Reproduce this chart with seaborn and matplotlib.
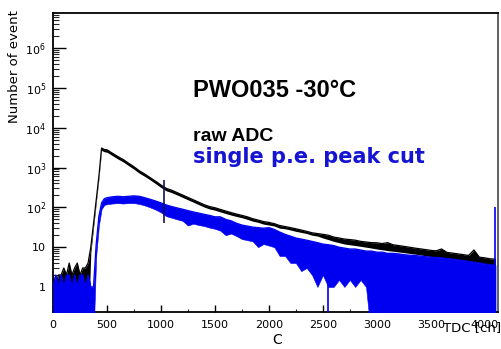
import numpy as np
import pandas as pd
import matplotlib
matplotlib.use("Agg")
import matplotlib.pyplot as plt
from matplotlib.ticker import FixedLocator, FixedFormatter, MultipleLocator, LogLocator, NullFormatter
import seaborn as sns

# TDC channel grid [ch]
channels = [0, 25, 50, 75, 100, 125, 150, 175, 200, 225, 250, 275, 300, 325,
            350, 375, 400, 425, 450, 475,
            500, 550, 600, 650, 700, 750, 800, 850, 900, 950,
            1000, 1050, 1100, 1150, 1200, 1250, 1300, 1350, 1400, 1450,
            1500, 1550, 1600, 1650, 1700, 1750, 1800, 1850, 1900, 1950,
            2000, 2050, 2100, 2150, 2200, 2250, 2300, 2350, 2400, 2450,
            2500, 2550, 2600, 2650, 2700, 2750, 2800, 2850, 2900, 2950,
            3000, 3050, 3100, 3150, 3200, 3250, 3300, 3350, 3400, 3450,
            3500, 3550, 3600, 3650, 3700, 3750, 3800, 3850, 3900, 3950,
            4000, 4050, 4100]

# raw ADC spectrum: upper / lower edge of the bin-to-bin fluctuation band
raw_hi = [2, 1, 2, 2, 3, 2, 4, 2, 3, 4, 2, 3, 3, 4,
          10, 38, 150, 600, 3100, 2850,
          2800, 2300, 1900, 1600, 1290, 1050, 830, 690, 560, 455,
          365, 300, 270, 235, 205, 178, 155, 135, 117, 105,
          98, 89, 81, 74, 68, 63, 58, 52, 48, 44,
          42, 39, 35, 33, 31, 29, 27, 25, 23, 22,
          21, 20, 18, 17, 16, 15.5, 15, 14, 13.5, 13,
          12.9, 12.3, 13, 11.5, 11, 10.5, 10, 9.5, 9.1, 8.7,
          8.3, 8.1, 9, 7.4, 7.1, 6.8, 6.5, 6.2, 8.5, 5.6,
          5.4, 5.1, 5.0]
raw_lo = [0, 0, 0, 0, 0, 0, 0, 0, 0, 0, 0, 0, 0, 0,
          7, 30, 125, 520, 2700, 2500,
          2430, 2000, 1650, 1390, 1120, 910, 720, 600, 490, 395,
          315, 260, 235, 205, 178, 155, 135, 117, 102, 91,
          85, 77, 70, 64, 59, 55, 50, 45, 42, 38,
          36, 34, 30, 29, 27, 25, 23.5, 22, 20, 19,
          17, 15.5, 14, 13, 12, 11.5, 11, 10.5, 10, 9.5,
          9, 8.6, 8.2, 7.9, 7.6, 7.3, 7, 6.7, 6.4, 6.1,
          5.8, 5.6, 5.4, 5.2, 5, 4.8, 4.6, 4.4, 4.2, 4,
          3.8, 3.6, 3.5]

# spectrum after the single p.e. peak cut
cut_hi = [1, 2, 1, 2, 1, 2, 2, 1, 2, 1, 2, 2, 1, 2,
          1, 1, 12, 60, 130, 165,
          175, 185, 190, 185, 190, 195, 190, 175, 160, 145,
          130, 115, 105, 97, 90, 83, 77, 72, 67, 63,
          58, 58, 50, 46, 40, 36, 34, 32, 31, 30,
          31, 28, 24, 21, 19, 17, 16, 15, 14, 13,
          12, 11.5, 11, 10, 9.5, 9, 9, 8.5, 8, 8,
          7.5, 7.5, 7, 7, 6.8, 6.5, 6.3, 6.2, 6, 5.8,
          5.6, 5.5, 5.4, 5.2, 5, 4.8, 4.6, 4.4, 4.2, 4,
          3.8, 3.6, 3.5]
cut_lo = [0, 0, 0, 0, 0, 0, 0, 0, 0, 0, 0, 0, 0, 0,
          0, 0, 6, 35, 90, 115,
          120, 125, 128, 125, 128, 128, 122, 112, 100, 88,
          75, 60, 55, 50, 46, 35, 39, 36, 34, 31,
          29, 26, 20, 22, 19, 16, 15, 14, 10, 12,
          11, 10, 6, 6, 4, 4, 2.5, 3, 2, 1,
          2, 1, 1, 1.5, 1, 1.5, 1, 1.5, 1, 0,
          0, 0, 0, 0, 0, 0, 0, 0, 0, 0,
          0, 0, 0, 0, 0, 0, 0, 0, 0, 0,
          0, 0, 0]

# single-bin outliers: channel, lowest and highest count in that bin column
raw_spike_ch = [1030]
raw_spike_lo = [40]
raw_spike_hi = [490]
cut_spike_ch = [2546, 4095]
cut_spike_lo = [0, 0]
cut_spike_hi = [12, 100]

x_ticks = [0, 500, 1000, 1500, 2000, 2500, 3000, 3500, 4000]
x_tick_labels = ["0", "500", "1000", "1500", "2000", "2500", "3000", "3500", "4000"]
y_ticks = [1, 10, 100, 1e3, 1e4, 1e5, 1e6]
y_tick_labels = ["1", "10", "$10^{2}$", "$10^{3}$", "$10^{4}$", "$10^{5}$", "$10^{6}$"]

sns.set_theme(style="ticks")
plt.rcParams["font.family"] = ["DejaVu Sans"]

RAW_COLOR = "#000000"
CUT_COLOR = "#0000f0"
Y_MIN, Y_MAX = 0.235, 7.66e6
FLOOR = 0.05  # empty bins are drawn down to the axis


def nonzero(v):
    v = np.asarray(v, dtype=float)
    return np.where(v > 0, v, FLOOR)


df = pd.DataFrame({
    "ch": channels,
    "raw_hi": nonzero(raw_hi), "raw_lo": nonzero(raw_lo),
    "cut_hi": nonzero(cut_hi), "cut_lo": nonzero(cut_lo),
})

fig = plt.figure(figsize=(5.02, 3.49), dpi=100)
ax = fig.add_axes([53 / 502, 1 - 312 / 349, 444.7 / 502, 299 / 349])
ax.set_yscale("log")

# raw ADC
ax.fill_between(df["ch"], df["raw_lo"], df["raw_hi"], color=RAW_COLOR, lw=0, zorder=2)
sns.lineplot(data=df, x="ch", y="raw_hi", color=RAW_COLOR, lw=0.9, ax=ax, zorder=2)
# after cut
ax.fill_between(df["ch"], df["cut_lo"], df["cut_hi"], color=CUT_COLOR, lw=0.4, zorder=3)
sns.lineplot(data=df, x="ch", y="cut_hi", color=CUT_COLOR, lw=0.9, ax=ax, zorder=3)

ax.vlines(raw_spike_ch, nonzero(raw_spike_lo), raw_spike_hi, colors="#10105a", lw=1.2, zorder=4)
ax.vlines(cut_spike_ch, nonzero(cut_spike_lo), cut_spike_hi, colors=CUT_COLOR, lw=1.2, zorder=4)

ax.set_xlim(0, 4120)
ax.set_ylim(Y_MIN, Y_MAX)
ax.set_xlabel("")
ax.set_ylabel("")

ax.xaxis.set_major_locator(FixedLocator(x_ticks))
ax.xaxis.set_major_formatter(FixedFormatter(x_tick_labels))
ax.xaxis.set_minor_locator(MultipleLocator(250))
ax.yaxis.set_major_locator(FixedLocator(y_ticks))
ax.yaxis.set_major_formatter(FixedFormatter(y_tick_labels))
ax.yaxis.set_minor_locator(LogLocator(base=10, subs=np.arange(2, 10), numticks=30))
ax.yaxis.set_minor_formatter(NullFormatter())

ax.tick_params(axis="y", which="major", direction="in", length=9, width=1.0,
               left=True, right=False, pad=5, labelsize=8, colors="black")
ax.tick_params(axis="y", which="minor", direction="in", length=4.5, width=0.8,
               left=True, right=False)
ax.tick_params(axis="x", which="major", direction="in", length=5, width=1.0,
               bottom=True, top=False, pad=6, labelsize=8, colors="black")
ax.tick_params(axis="x", which="minor", direction="in", length=2.5, width=0.8,
               bottom=True, top=False)

for side in ("left", "bottom", "top"):
    ax.spines[side].set_color("black")
    ax.spines[side].set_linewidth(1.3)
ax.spines["right"].set_color("#555555")
ax.spines["right"].set_linewidth(1.3)
ax.grid(False)

# axis titles
fig.text(15 / 502, 1 - 10 / 349, "Number of event", rotation=90, ha="center", va="top",
         fontsize=9.5, color="black")
fig.text(277 / 502, 1 - 340 / 349, "C", ha="center", va="center", fontsize=10, color="black")
fig.text(501 / 502, 1 - 331 / 349, "TDC [ch]", ha="right", va="baseline", fontsize=9.5,
         color="black")

# annotations
fig.text(193 / 502, 1 - 97 / 349, "PWO035 -30\u00b0C", family=["Liberation Sans", "DejaVu Sans"],
         fontweight="bold", fontsize=17, va="baseline", color="black")
fig.text(193 / 502, 1 - 141 / 349, "raw ADC", family=["Liberation Sans", "DejaVu Sans"],
         fontweight="bold", fontsize=14, va="baseline", color="black")
fig.text(193 / 502, 1 - 163 / 349, "single p.e. peak cut", family=["DejaVu Sans"],
         fontweight="bold", fontsize=15, va="baseline", color="#1414d2")

fig.savefig("out.png", dpi=100, facecolor="white")
